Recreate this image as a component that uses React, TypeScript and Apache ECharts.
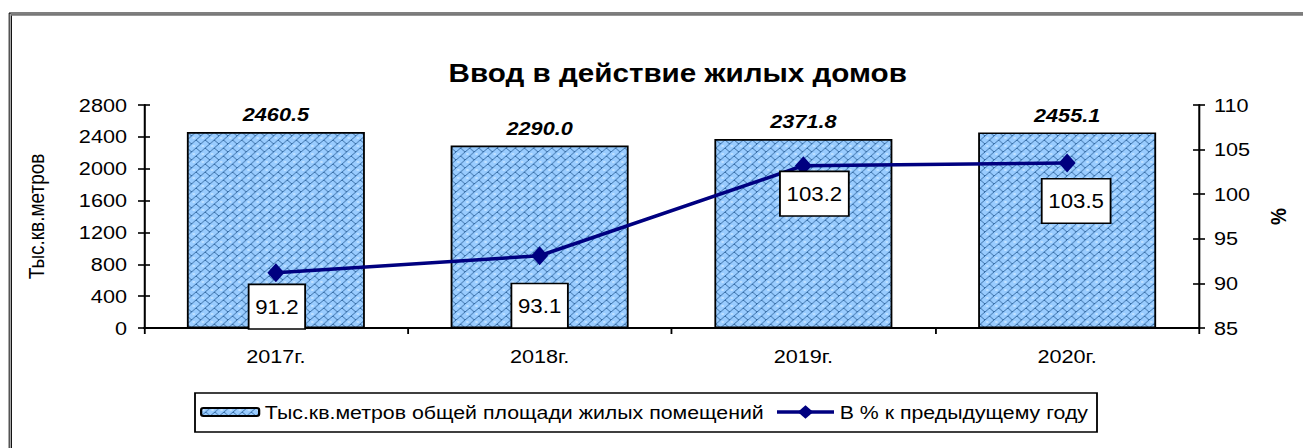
import React, { useEffect, useRef } from "react";
import * as echarts from "echarts";

const categories = ["2017г.", "2018г.", "2019г.", "2020г."];
const areaValues = [2460.5, 2290.0, 2371.8, 2455.1];
const percentValues = [91.2, 93.1, 103.2, 103.5];
// label box offsets from the point, in page pixels
const percentLabelOffsets = [
  [1, 34],
  [0, 50],
  [11, 28],
  [9, 38],
];
const leftAxis = { min: 0, max: 2800, interval: 400 };
const rightAxis = { min: 85, max: 110, interval: 5 };
const barName = "Тыс.кв.метров общей площади жилых помещений";
const lineName = "В % к предыдущему году";

const FONT = "'Liberation Sans', Arial, sans-serif";
const S = 1.14; // horizontal stretch of the original picture
const PAGE_W = 1303;
const PAGE_H = 448;
const W = PAGE_W / S;
const X = (x: number) => x / S;

function makePattern(): string {
  const c = document.createElement("canvas");
  c.width = 8;
  c.height = 8;
  const ctx = c.getContext("2d")!;
  ctx.fillStyle = "#99CCFF";
  ctx.fillRect(0, 0, 8, 8);
  ctx.fillStyle = "#C2E2FF";
  ctx.fillRect(1, 1, 2, 2);
  ctx.fillRect(5, 5, 1, 1);
  ctx.fillStyle = "#3A70A8";
  for (let i = 0; i < 8; i++) ctx.fillRect(i, 7 - i, 1, 1);
  for (let i = 4; i < 8; i++) ctx.fillRect(i, i, 1, 1);
  return c.toDataURL();
}

export default function App() {
  const ref = useRef<HTMLDivElement>(null);
  useEffect(() => {
    if (!ref.current) return;
    const chart = echarts.init(ref.current, undefined, { renderer: "svg" });
    const pattern = makePattern();
    const axisLine = { show: true, lineStyle: { color: "#000", width: 1.8 } };
    const tickStyle = { color: "#000", width: 1.6 };
    const legendText = { fontFamily: FONT, fontSize: 18.7, color: "#000", lineHeight: 22 };
    const option: any = {
      animation: false,
      backgroundColor: "#fff",
      textStyle: { fontFamily: FONT },
      title: {
        text: "Ввод в действие жилых домов",
        left: X(672),
        top: 55,
        textAlign: "center",
        textStyle: { fontFamily: FONT, fontSize: 26, fontWeight: "bold", color: "#000" },
      },
      legend: [
        {
          left: X(200),
          top: 401,
          padding: 0,
          itemWidth: X(58),
          itemHeight: 8,
          textStyle: legendText,
          data: [barName],
        },
        {
          left: X(775),
          top: 401,
          padding: 0,
          itemWidth: X(57),
          itemHeight: 17,
          lineStyle: { width: 3.5 },
          textStyle: legendText,
          data: [lineName],
        },
      ],
      grid: { left: X(144), right: W - X(1199), top: 105, bottom: PAGE_H - 328, containLabel: false },
      xAxis: {
        type: "category",
        data: categories,
        axisLine,
        axisTick: { show: true, length: 6, lineStyle: tickStyle },
        axisLabel: { fontFamily: FONT, fontSize: 19, color: "#000", margin: 19 },
      },
      yAxis: [
        {
          type: "value",
          position: "left",
          ...leftAxis,
          name: "Тыс.кв.метров",
          nameLocation: "middle",
          nameGap: X(97),
          nameRotate: 90,
          nameTextStyle: { fontFamily: FONT, fontSize: 19, color: "#000" },
          axisLine,
          axisTick: { show: true, length: X(6), lineStyle: tickStyle },
          axisLabel: {
            fontFamily: FONT,
            fontSize: 19,
            color: "#000",
            margin: X(17),
            formatter: (v: number) => String(v),
          },
          splitLine: { show: false },
        },
        {
          type: "value",
          position: "right",
          ...rightAxis,
          name: "%",
          nameLocation: "middle",
          nameGap: X(69),
          nameRotate: 90,
          nameTextStyle: { fontFamily: FONT, fontSize: 19, fontWeight: "bold", color: "#000" },
          axisLine,
          axisTick: { show: true, length: X(6), lineStyle: tickStyle },
          axisLabel: {
            fontFamily: FONT,
            fontSize: 19,
            color: "#000",
            margin: X(15),
            formatter: (v: number) => String(v),
          },
          splitLine: { show: false },
        },
        {
          type: "value",
          position: "left",
          ...leftAxis,
          axisLine: { show: false },
          axisTick: { show: true, inside: true, length: X(6), lineStyle: tickStyle },
          axisLabel: { show: false },
          splitLine: { show: false },
        },
        {
          type: "value",
          position: "right",
          ...rightAxis,
          axisLine: { show: false },
          axisTick: { show: true, inside: true, length: X(6), lineStyle: tickStyle },
          axisLabel: { show: false },
          splitLine: { show: false },
        },
      ],
      series: [
        {
          name: barName,
          type: "bar",
          yAxisIndex: 0,
          data: areaValues,
          barWidth: X(178),
          itemStyle: {
            color: { image: pattern, repeat: "repeat", imageWidth: 8, imageHeight: 8 },
            borderColor: "#000",
            borderWidth: 1.6,
          },
          label: {
            show: true,
            position: "top",
            distance: 8,
            formatter: (p: any) => Number(p.value).toFixed(1),
            fontFamily: FONT,
            fontSize: 19,
            fontWeight: "bold",
            fontStyle: "italic",
            color: "#000",
          },
        },
        {
          name: lineName,
          type: "line",
          yAxisIndex: 1,
          data: percentValues.map((v, i) => ({
            value: v,
            label: { offset: [X(percentLabelOffsets[i][0]), percentLabelOffsets[i][1]] },
          })),
          color: "#000080",
          lineStyle: { color: "#000080", width: 3.5 },
          itemStyle: { color: "#000080" },
          symbol: "diamond",
          symbolSize: [X(17), 19],
          z: 5,
          label: {
            show: true,
            position: "inside",
            formatter: (p: any) => Number(p.value).toFixed(1),
            fontFamily: FONT,
            fontSize: 19.5,
            lineHeight: 22,
            color: "#000",
            backgroundColor: "#fff",
            borderColor: "#000",
            borderWidth: 1.6,
            padding: [11, 5, 10, 5],
          },
        },
      ],
      graphic: [
        { type: "line", shape: { x1: X(9.5), y1: 13, x2: X(9.5), y2: PAGE_H }, style: { stroke: "#555", lineWidth: X(2) } },
        { type: "line", shape: { x1: X(11.5), y1: 14, x2: X(11.5), y2: PAGE_H }, style: { stroke: "#000", lineWidth: X(1) } },
        { type: "line", shape: { x1: X(9), y1: 13, x2: W, y2: 13 }, style: { stroke: "#000", lineWidth: 1.2 } },
        { type: "line", shape: { x1: X(11), y1: 14.8, x2: W, y2: 14.8 }, style: { stroke: "#777", lineWidth: 1.8 } },
        {
          type: "rect",
          shape: { x: X(195), y: 393, width: X(902), height: 39 },
          style: { fill: "none", stroke: "#000", lineWidth: 1.6 },
          z: 10,
        },
      ],
    };
    chart.setOption(option);
    return () => chart.dispose();
  }, []);
  return (
    <div
      ref={ref}
      style={{
        position: "absolute",
        left: 0,
        top: 0,
        width: W,
        height: PAGE_H,
        background: "#fff",
        transform: `scaleX(${S})`,
        transformOrigin: "0 0",
      }}
    />
  );
}
